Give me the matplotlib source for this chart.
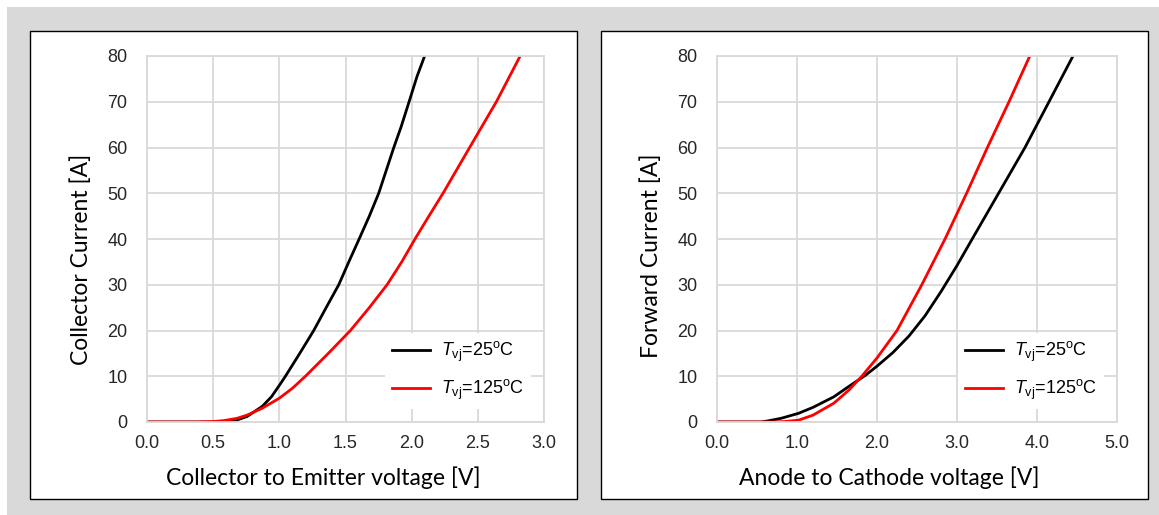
import matplotlib
matplotlib.use("Agg")
import matplotlib.pyplot as plt
from matplotlib.patches import Rectangle

# IGBT output characteristic (left panel), voltage [V] / current [A]
igbt_v_25 = [0.0, 0.5, 0.6, 0.655, 0.756, 0.87, 0.94, 1.0, 1.046, 1.15, 1.26, 1.35, 1.449, 1.525,
             1.603, 1.68, 1.751, 1.865, 1.92, 1.975, 2.04, 2.098]
igbt_i_25 = [0.0, 0.0, 0.05, 0.2, 1.2, 3.4, 5.5, 8.0, 10, 14.8, 20, 24.8, 30, 35,
             40, 45, 50, 60, 64.5, 69.5, 75.5, 80]
igbt_v_125 = [0.0, 0.38, 0.5, 0.58, 0.68, 0.756, 0.87, 1.0, 1.1, 1.197, 1.37, 1.537, 1.68,
              1.814, 1.925, 2.025, 2.13, 2.237, 2.438, 2.64, 2.82]
igbt_i_125 = [0.0, 0.0, 0.1, 0.3, 0.8, 1.5, 3.0, 5.2, 7.4, 10, 15, 20, 25,
              30, 35, 40, 45, 50, 60, 70, 80]

# Diode forward characteristic (right panel)
diode_v_25 = [0.0, 0.55, 0.625, 0.8, 1.02, 1.2, 1.46, 1.65, 1.855, 2.0, 2.2, 2.4, 2.6,
              2.8, 3.0, 3.19, 3.52, 3.85, 4.15, 4.45]
diode_i_25 = [0.0, 0.0, 0.2, 0.8, 1.9, 3.2, 5.5, 7.8, 10.2, 12.2, 15.2, 18.8, 23.2,
              28.5, 34.2, 40, 50, 60, 70, 80]
diode_v_125 = [0.0, 0.71, 0.85, 1.02, 1.2, 1.46, 1.65, 1.81, 2.0, 2.25, 2.56, 2.85, 3.12,
               3.38, 3.65, 3.91]
diode_i_125 = [0.0, 0.0, 0.1, 0.4, 1.5, 4.1, 7.0, 10.0, 14.0, 20, 30, 40, 50,
               60, 70, 80]

labels = [r"$T_{\rm vj}$=25$^{\rm o}$C", r"$T_{\rm vj}$=125$^{\rm o}$C"]

plt.rcParams["font.family"] = ["Liberation Sans", "DejaVu Sans"]
plt.rcParams["mathtext.fontset"] = "custom"
plt.rcParams["mathtext.rm"] = "Liberation Sans"
plt.rcParams["mathtext.it"] = "Liberation Sans:italic"

W, H = 1159, 515
fig = plt.figure(figsize=(W / 100, H / 100), dpi=100, facecolor="white")

# grey backdrop and the two white panels
fig.patches.append(Rectangle((7 / W, 0), 1, 1 - 7 / H, transform=fig.transFigure,
                             facecolor="#d9d9d9", edgecolor="none", zorder=0))
for x0 in (30, 601):
    fig.patches.append(Rectangle((x0 / W, (H - 499) / H), 547 / W, 468 / H,
                                 transform=fig.transFigure, facecolor="white",
                                 edgecolor="black", linewidth=1.0, zorder=1))

ax1 = fig.add_axes([147 / W, (H - 422) / H, 397 / W, 366 / H])
ax2 = fig.add_axes([717 / W, (H - 422) / H, 400 / W, 366 / H])

ax1.plot(igbt_v_25, igbt_i_25, color="black", lw=2, label=labels[0])
ax1.plot(igbt_v_125, igbt_i_125, color="red", lw=2, label=labels[1])
ax2.plot(diode_v_25, diode_i_25, color="black", lw=2, label=labels[0])
ax2.plot(diode_v_125, diode_i_125, color="red", lw=2, label=labels[1])

setups = [
    (ax1, 3.0, 0.5, "Collector Current [A]", "Collector to Emitter voltage [V]", 0.443, 0.444),
    (ax2, 5.0, 1.0, "Forward Current [A]", "Anode to Cathode voltage [V]", 0.431, 0.454),
]
for ax, xmax, step, ylab, xlab, xl_pos, yl_pos in setups:
    ax.set_xlim(0, xmax)
    ax.set_ylim(0, 80)
    n = int(round(xmax / step))
    ax.set_xticks([i * step for i in range(n + 1)])
    ax.set_xticklabels([f"{i * step:.1f}" for i in range(n + 1)])
    ax.set_yticks(range(0, 81, 10))
    ax.grid(True, color="#d9d9d9", lw=1.3)
    ax.set_axisbelow(True)
    for s in ax.spines.values():
        s.set_color("#d9d9d9")
        s.set_linewidth(1.3)
    ax.tick_params(length=0, labelsize=13, colors="#262626")
    ax.tick_params(axis="y", pad=14)
    ax.tick_params(axis="x", pad=9)
    ax.set_ylabel(ylab, family="Lato", fontsize=16.5, labelpad=11)
    ax.set_xlabel(xlab, family="Lato", fontsize=16.5, labelpad=11)
    ax.xaxis.label.set_x(xl_pos)
    ax.yaxis.label.set_y(yl_pos)
    ax.set_zorder(2)
    ax.set_facecolor("white")
    leg = ax.legend(loc="lower right", frameon=True, fancybox=False, framealpha=1,
                    edgecolor="white", fontsize=13, handlelength=2.1,
                    handletextpad=0.6, borderaxespad=0.7, labelspacing=0.75)
    leg.get_frame().set_linewidth(0)

fig.savefig("out.png", dpi=100, facecolor=fig.get_facecolor())
